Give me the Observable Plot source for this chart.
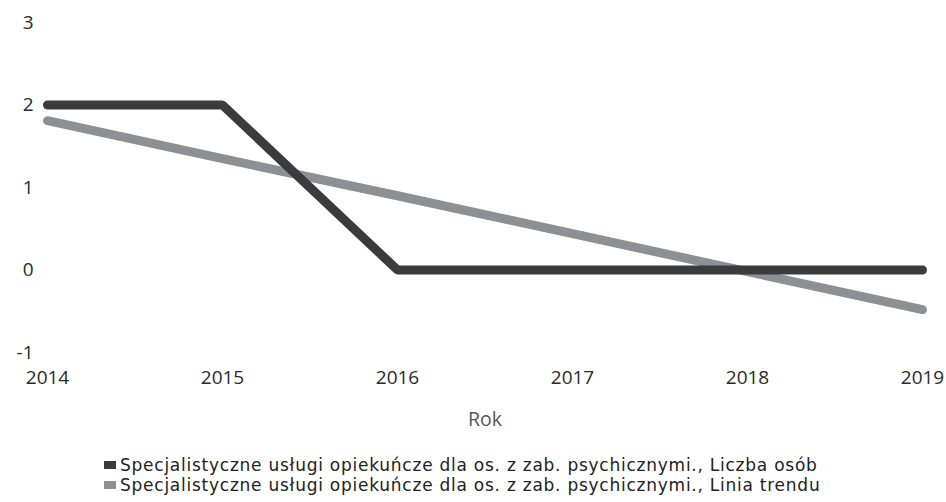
<!DOCTYPE html>
<html>
<head>
<meta charset="utf-8">
<script src="https://cdn.jsdelivr.net/npm/d3@7"></script>
<script src="https://cdn.jsdelivr.net/npm/@observablehq/plot@0.6"></script>
<style>
  html, body { margin: 0; padding: 0; background: #fff; }
  body { width: 946px; height: 502px; overflow: hidden; font-family: "Open Sans", sans-serif; }
  #legend { position: absolute; left: 104px; top: 455px; font-family: "DejaVu Sans", sans-serif; font-size: 17px; letter-spacing: 0.75px; color: #222; line-height: 20px; }
  .item { display: flex; align-items: center; white-space: nowrap; height: 20px; }
  .sw { width: 12px; height: 8px; margin-right: 4px; display: inline-block; }
</style>
</head>
<body>
<div id="chart"></div>
<div id="legend"></div>
<script>
const years = [2014, 2015, 2016, 2017, 2018, 2019];
const liczbaOsob = [2, 2, 0, 0, 0, 0];
const liniaTrendu = [1.81, 1.35, 0.9, 0.44, -0.02, -0.48];
const yTicks = [-1, 0, 1, 2, 3];
const seriesNames = [
  "Specjalistyczne usługi opiekuńcze dla os. z zab. psychicznymi., Liczba osób",
  "Specjalistyczne usługi opiekuńcze dla os. z zab. psychicznymi., Linia trendu"
];
const seriesColors = ["#3b3b3d", "#8e8f92"];

const rows = [];
years.forEach((y, i) => rows.push({year: y, value: liczbaOsob[i], s: seriesNames[0]}));
years.forEach((y, i) => rows.push({year: y, value: liniaTrendu[i], s: seriesNames[1]}));

const chart = Plot.plot({
  width: 946,
  height: 440,
  marginLeft: 47,
  marginRight: 24,
  marginTop: 22,
  marginBottom: 88,
  style: {fontFamily: "Open Sans, sans-serif", fontSize: "19px", color: "#2a2a2a", background: "#fff"},
  x: {domain: [2014, 2019]},
  y: {domain: [-1, 3]},
  color: {domain: seriesNames, range: seriesColors},
  marks: [
    Plot.axisY({ticks: yTicks, tickFormat: d => String(d), tickSize: 0, tickPadding: 14, label: null, fontSize: 19}),
    Plot.axisX({ticks: years, tickFormat: d => String(d), tickSize: 0, tickPadding: 18, fontSize: 19, label: null}),
    Plot.text(["Rok"], {frameAnchor: "bottom", dy: 73, fontSize: 19.5, fill: "#555", text: d => d}),
    Plot.line(rows.filter(d => d.s === seriesNames[1]), {x: "year", y: "value", stroke: "s", strokeWidth: 9, strokeLinejoin: "miter"}),
    Plot.line(rows.filter(d => d.s === seriesNames[0]), {x: "year", y: "value", stroke: "s", strokeWidth: 9, strokeLinejoin: "miter"})
  ]
});
document.getElementById("chart").appendChild(chart);

const lg = document.getElementById("legend");
seriesNames.forEach((n, i) => {
  const d = document.createElement("div");
  d.className = "item";
  d.innerHTML = `<span class="sw" style="background:${seriesColors[i]}"></span><span>${n}</span>`;
  lg.appendChild(d);
});
</script>
</body>
</html>
